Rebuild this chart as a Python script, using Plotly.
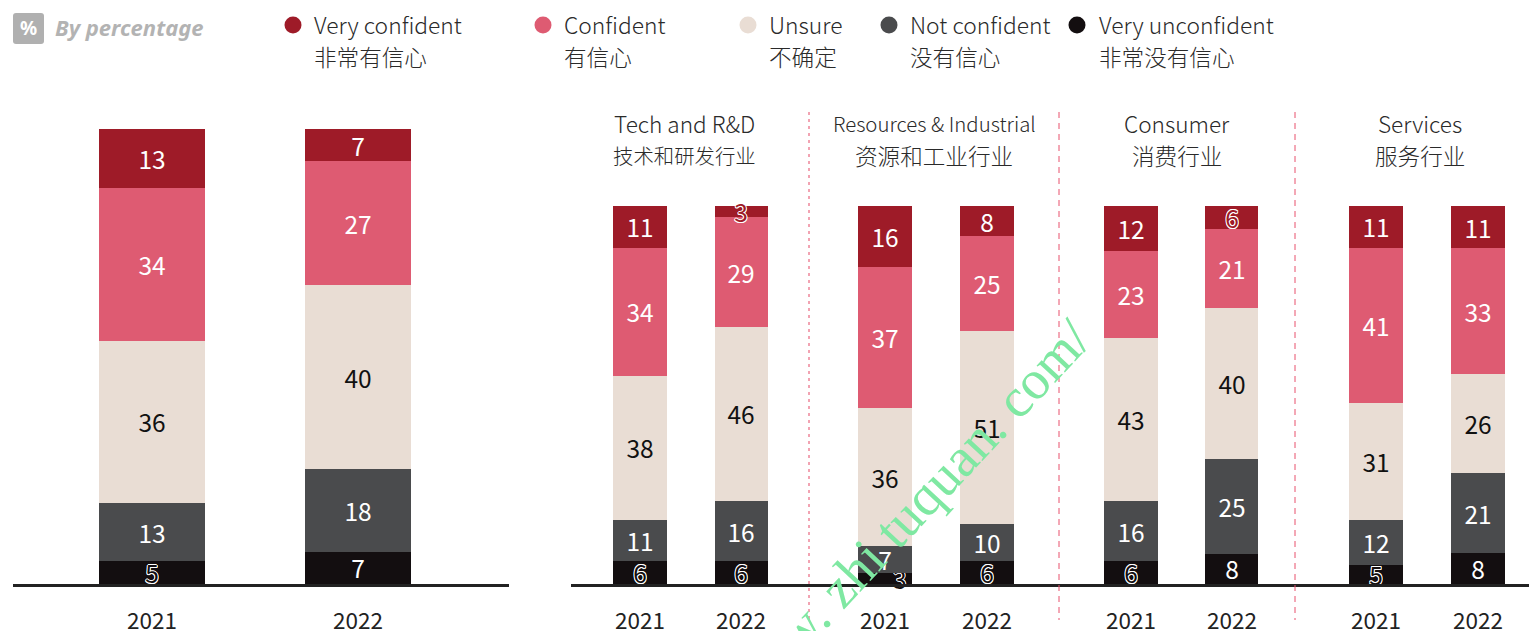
import plotly.graph_objects as go

W, H = 1529, 631
years = ["2021", "2022"]
# bottom-to-top stacking order
series_en = ["Very unconfident", "Not confident", "Unsure", "Confident", "Very confident"]
series_zh = ["非常没有信心", "没有信心", "不确定", "有信心", "非常有信心"]
colors = ["#130E10", "#4A4B4D", "#E9DDD4", "#DE5B72", "#9E1B28"]
label_colors = ["#FFFFFF", "#FFFFFF", "#111111", "#FFFFFF", "#FFFFFF"]

overall = [[5, 7], [13, 18], [36, 40], [34, 27], [13, 7]]
tech = [[6, 6], [11, 16], [38, 46], [34, 29], [11, 3]]
resources = [[3, 6], [7, 10], [36, 51], [37, 25], [16, 8]]
consumer = [[6, 8], [16, 25], [43, 40], [23, 21], [12, 6]]
services = [[5, 8], [12, 21], [31, 26], [41, 33], [11, 11]]

panel_titles = [("Tech and R&D", "技术和研发行业"), ("Resources & Industrial", "资源和工业行业"),
                ("Consumer", "消费行业"), ("Services", "服务行业")]

FONT = "Noto Sans CJK SC"
OUTLINE = "0.8px 0 #fff,-0.8px 0 #fff,0 0.8px #fff,0 -0.8px #fff,0.7px 0.7px #fff,-0.7px -0.7px #fff,0.7px -0.7px #fff,-0.7px 0.7px #fff"

# layout: (axis suffix, data, left px, right px, range, y suffix, bar width)
panels = [
    ("", overall, 13, 509, [-0.675, 1.733], "", 0.515),
    ("2", tech, 571, 809, [-0.683, 1.673], "2", 0.525),
    ("3", resources, 809, 1059, [-0.745, 1.706], "2", 0.52),
    ("4", consumer, 1059, 1295, [-0.713, 1.624], "2", 0.525),
    ("5", services, 1295, 1529, [-0.794, 1.5], "2", 0.52),
]
BASE = 584
TOPS = {"": 129, "2": 206}

fig = go.Figure()
for suf, data, l, r, rng, ysuf, bw in panels:
    for i, vals in enumerate(data):
        small = [v <= 6 and i in (0, 4) for v in vals]
        # the "3" of Resources 2021 sits off-centre in the reference: padded on its left
        texts = [("\u2003\u2009" + str(v)) if (suf == "3" and i == 0 and j == 0) else str(v) for j, v in enumerate(vals)]
        fig.add_trace(go.Bar(
            x=years, y=vals, name=series_en[i], width=bw,
            marker=dict(color=colors[i], line=dict(width=0)),
            text=texts, textposition="inside", insidetextanchor="middle",
            textangle=0, constraintext="none", cliponaxis=False,
            textfont=dict(family=FONT, size=24.5,
                          color=[colors[i] if s else label_colors[i] for s in small],
                          shadow=[OUTLINE if s else "none" for s in small]),
            hoverinfo="skip", showlegend=False,
            xaxis="x" + suf, yaxis="y" + ysuf,
        ))

layout = dict(
    width=W, height=H, autosize=False,
    margin=dict(l=0, r=0, t=0, b=0, autoexpand=False),
    paper_bgcolor="white", plot_bgcolor="white",
    barmode="stack", barnorm="percent",
    font=dict(family=FONT, color="#222222"),
    showlegend=False,
)
for suf, data, l, r, rng, ysuf, bw in panels:
    layout["xaxis" + suf] = dict(
        domain=[l / W, r / W], range=rng, type="category", categoryorder="array", categoryarray=years,
        anchor="y" + ysuf, showgrid=False, zeroline=False, showline=True, linecolor="#222222", linewidth=3,
        ticks="", ticklabelstandoff=15, tickfont=dict(family=FONT, size=22.5, color="#222222"),
        fixedrange=True, automargin=False,
    )
for ysuf, top in TOPS.items():
    layout["yaxis" + ysuf] = dict(
        domain=[(H - BASE) / H, (H - top) / H], range=[0, 100.01], visible=False, fixedrange=True,
        anchor="x" + ysuf,
    )
fig.update_layout(**layout)

px = lambda v: v / W
py = lambda v: 1 - v / H
shapes = []
annos = []

def label(x, y, text, font, xanchor="center", angle=0):
    annos.append(dict(x=px(x), y=py(y), xref="paper", yref="paper", xanchor=xanchor, yanchor="middle",
                      text=text, showarrow=False, font=font, textangle=angle))

# separators between the industry panels
for suf, col, width, dash in [("3", "#F2A3B2", 2, "3px,4px"), ("4", "#E8506C", 1, "6px,5px"), ("5", "#E8506C", 1, "6px,5px")]:
    shapes.append(dict(type="line", xref=f"x{suf} domain", yref="paper", x0=0, x1=0, y0=py(112), y1=py(620),
                       line=dict(color=col, width=width, dash=dash), layer="above"))

# badge
shapes.append(dict(type="path", xref="paper", yref="paper",
                   path=f"M {px(16)} {py(13)} L {px(41)} {py(13)} Q {px(44)} {py(13)} {px(44)} {py(16)} L {px(44)} {py(41)} "
                        f"Q {px(44)} {py(44)} {px(41)} {py(44)} L {px(16)} {py(44)} Q {px(13)} {py(44)} {px(13)} {py(41)} "
                        f"L {px(13)} {py(16)} Q {px(13)} {py(13)} {px(16)} {py(13)} Z",
                   fillcolor="#B0B0B0", line=dict(width=0)))
label(28.5, 28, "<b>%</b>", dict(family="Noto Sans", size=19, color="white"))
label(53, 27, "<b><i>By percentage</i></b>", dict(family="Noto Sans", size=22, color="#B3B3B3"), xanchor="left")

# legend
legend_dot_x = [1077, 889, 748, 543, 293]
legend_text_x = [1096.5, 908, 767, 562, 312]
for i in range(5):
    shapes.append(dict(type="circle", xref="paper", yref="paper", x0=px(legend_dot_x[i] - 8.5), x1=px(legend_dot_x[i] + 8.5),
                       y0=py(33.5), y1=py(16.5), fillcolor=colors[i], line=dict(width=0)))
    label(legend_text_x[i], 24, series_en[i], dict(family=FONT, size=22.8, weight=300, color="#2A2A2A"), xanchor="left")
    label(legend_text_x[i], 56, series_zh[i], dict(family=FONT, size=22.6, weight=300, color="#2A2A2A"), xanchor="left")

# panel titles
title_sizes = [(22.6, 20.4), (20.4, 22.6), (22.6, 22.6), (22.6, 22.6)]
for (en, zh), cx, (s_en, s_zh) in zip(panel_titles, [684, 934, 1177, 1420], title_sizes):
    label(cx, 123, en, dict(family=FONT, size=s_en, weight=300, color="#2A2A2A"))
    label(cx, 155, zh, dict(family=FONT, size=s_zh, weight=300, color="#2A2A2A"))

# watermark
label(906, 515, "www. zhi tuquan. com/", dict(family="Liberation Serif", size=55, color="#7FE8A2"), angle=-47)

fig.update_layout(shapes=shapes, annotations=annos)
fig.write_html("out.html", config={"displayModeBar": False},
               post_script="document.body.style.margin='0';document.documentElement.style.overflow='hidden';")
